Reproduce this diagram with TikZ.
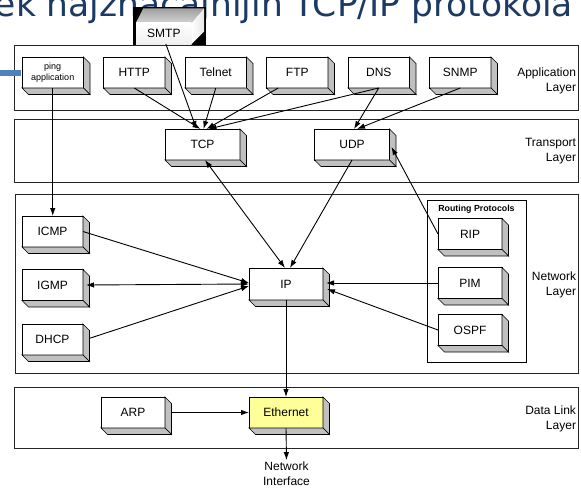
\documentclass[tikz,border=0pt]{standalone}
\usepackage{fontspec}
\setmainfont{Liberation Sans}
\newfontfamily\headfont{DejaVu Sans}
\usetikzlibrary{arrows.meta,calc}

\definecolor{headblue}{RGB}{28,58,100}
\definecolor{barblue}{RGB}{79,129,189}
\definecolor{sidegray}{RGB}{192,192,192}
\definecolor{ethyellow}{RGB}{255,255,153}

% depth of the raised protocol boxes
\newcommand\protodepth{6.5}
% right and bottom faces of a raised box
\newcommand\protoextrude[1]{%
  \draw[face] (#1.north east) -- ($(#1.north east)+(\protodepth,\protodepth)$)
    -- ($(#1.south east)+(\protodepth,\protodepth)$) -- (#1.south east) -- cycle;
  \draw[face] (#1.south west) -- ($(#1.south west)+(\protodepth,\protodepth)$)
    -- ($(#1.south east)+(\protodepth,\protodepth)$) -- (#1.south east) -- cycle;
}

\begin{document}
\begin{tikzpicture}[x=1pt,y=-1pt,
  every node/.style={inner sep=0pt, outer sep=0pt},
  proto/.style={draw=black, line width=0.8pt, fill=white,
    minimum width=61.5pt, minimum height=31pt,
    font=\fontsize{12}{14}\selectfont},
  layer/.style={draw=black!85, line width=1pt},
  layerlabel/.style={anchor=east, align=right, font=\fontsize{12}{15}\selectfont},
  face/.style={draw=black, line width=0.7pt, fill=sidegray},
  link/.style={line width=0.9pt, -{Latex[length=8pt,width=5.5pt]}},
  twoway/.style={line width=0.9pt, {Latex[length=8pt,width=5.5pt]}-{Latex[length=8pt,width=5.5pt]}},
]
\useasboundingbox (0,0) rectangle (581,490);

% heading
\begin{scope}
  \clip (0,0) rectangle (581,490);
  \node[anchor=base east, text=headblue, font=\headfont\fontsize{34.5}{40}\selectfont]
    (heading) at (573,16) {ek najznačajnijih TCP/IP protokola};
\end{scope}

% layer bands
\draw[layer] (14,45) rectangle (578,110);
\draw[layer] (14,119) rectangle (578,182);
\draw[layer] (15,194) rectangle (578,373);
\draw[layer] (14,387) rectangle (578,448);
\fill[barblue] (0,70) rectangle (21,76);

\node[layerlabel] (lapp) at (576,81) {Application\\Layer};
\node[layerlabel] (ltra) at (576,151) {Transport\\Layer};
\node[layerlabel] (lnet) at (576,284.5) {Network\\Layer};
\node[layerlabel] (llnk) at (576,419) {Data Link\\Layer};

% routing protocols group
\draw[black, line width=0.8pt] (427,200) rectangle (526,362);
\node[font=\bfseries\fontsize{8.8}{10}\selectfont] (rtitle) at (476.5,209) {Routing Protocols};

% application layer
\node[proto, font=\fontsize{9}{11}\selectfont, align=center] (ping) at (52.75,72.5) {ping\\application};
\node[proto] (http)   at (134.25,72.5) {HTTP};
\node[proto] (telnet) at (215.75,72.5) {Telnet};
\node[proto] (ftp)    at (297.25,72.5) {FTP};
\node[proto] (dns)    at (378.75,72.5) {DNS};
\node[proto] (snmp)   at (460.25,72.5) {SNMP};

% transport layer
\node[proto, minimum width=75pt] (tcp) at (202.5,144.5) {TCP};
\node[proto, minimum width=75pt] (udp) at (352,144.5) {UDP};

% network layer
\node[proto, minimum width=74pt, minimum height=32pt] (ip) at (286,284) {IP};
\node[proto, minimum width=61pt] (icmp) at (52.5,231.5) {ICMP};
\node[proto, minimum width=61pt] (igmp) at (52.5,285) {IGMP};
\node[proto, minimum width=61pt] (dhcp) at (52.5,339.5) {DHCP};
\node[proto, minimum width=64pt] (rip)  at (470,234) {RIP};
\node[proto, minimum width=64pt] (pim)  at (470,283) {PIM};
\node[proto, minimum width=64pt] (ospf) at (470,330) {OSPF};

% data link layer
\node[proto, minimum width=64pt] (arp) at (133,412.5) {ARP};
\node[proto, minimum width=74pt, fill=ethyellow] (eth) at (286,412.5) {Ethernet};

\foreach \n in {ping,http,telnet,ftp,dns,snmp,tcp,udp,ip,icmp,igmp,dhcp,rip,pim,ospf,arp,eth}
  {\protoextrude{\n}}

\node[align=center, font=\fontsize{12}{15}\selectfont] (nif) at (286.5,474) {Network\\Interface};

% SMTP drawn as a shaded block standing above the application band
\fill[black] (133.3,6.7) rectangle (206,45);
\shade[top color=gray!75, bottom color=gray!35] (136,22.7) -- (143.3,8.3) -- (204,8.3) -- (191.7,22.7) -- cycle;
\shade[left color=white, right color=gray!20] (191.7,22.7) -- (204,8.3) -- (204,31.7) -- (191.7,44) -- cycle;
\node[top color=white, bottom color=gray!12, minimum width=55.7pt, minimum height=21.3pt,
  font=\fontsize{12}{14}\selectfont] (smtp) at (163.85,33.35) {SMTP};

% application to transport
\draw[link] ($(smtp.south)+(2,0)$) -- ($(tcp.north)+(-6,0)$);
\draw[link] (http.south) -- ($(tcp.north)+(-2,0)$);
\draw[link] (telnet.south) -- ($(tcp.north)+(1,0)$);
\draw[link] ($(ftp.south)+(-19,0)$) -- ($(tcp.north)+(4,0)$);
\draw[link] (dns.south) -- ($(tcp.north)+(6,0)$);
\draw[link] (dns.south) -- ($(udp.north)+(2,0)$);
\draw[link] (snmp.south) -- ($(udp.north)+(5,0)$);
\draw[link] (ping.south) -- (ping.south |- icmp.north);

% transport to network
\draw[twoway] ($(tcp.south)+(2.5,0)$) -- ($(ip.north)+(-1,0)$);
\draw[link] (udp.south) -- ($(ip.north)+(4,0)$);
\draw[link] (rip.west) -- ($(udp.east)+(2,2.5)$);

% within the network layer
\draw[link] (icmp.east) -- ($(ip.west)+(0,-1)$);
\draw[twoway] ($(igmp.east)+(3,0)$) -- (ip.west);
\draw[link] ($(dhcp.east)+(6,-1)$) -- ($(ip.west)+(0,2)$);
\draw[link] (pim.west) -- ($(ip.east)+(3,-1)$);
\draw[link] (ospf.west) -- ($(ip.east)+(4,5)$);

% network to data link and below
\draw[link] (ip.south) -- (eth.north);
\draw[link] ($(arp.east)+(6.5,0)$) -- (eth.west);
\draw[link] (eth.south) -- ($(nif.north)+(0,-2)$);
\end{tikzpicture}
\end{document}
